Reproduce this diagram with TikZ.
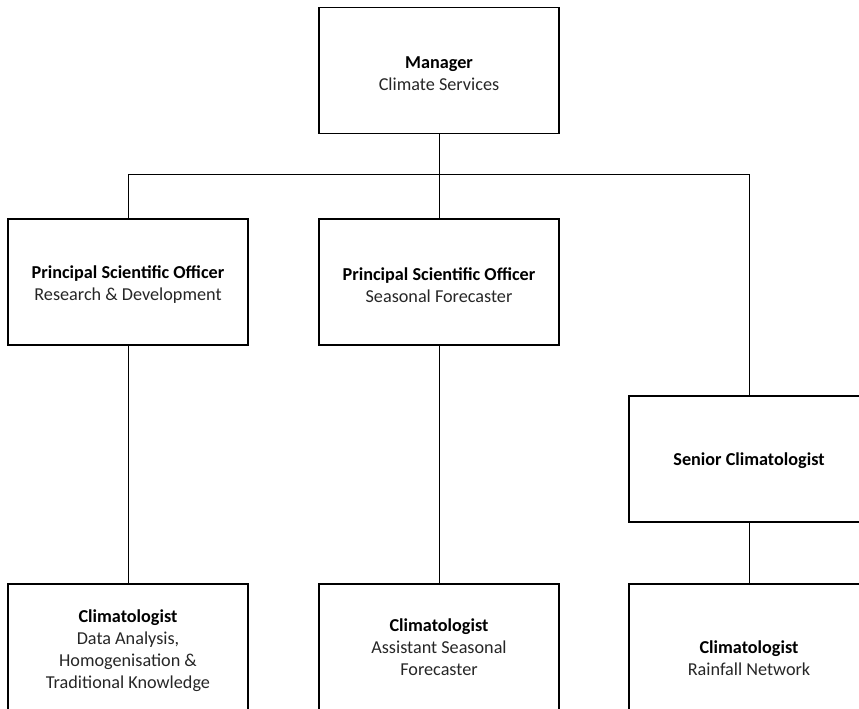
\documentclass[tikz,border=0pt]{standalone}
\usepackage{fontspec}
\setmainfont{Carlito}
\begin{document}
\begin{tikzpicture}[x=1pt,y=-1pt,
  box/.style={draw=black,line width=1.6pt,minimum width=240pt,minimum height=126pt,inner sep=0pt,outer sep=0pt},
  txt/.style={align=center,inner sep=0pt,font=\fontsize{18.2}{22}\selectfont,text=black!85},
  conn/.style={draw=black,line width=0.9pt}]
\useasboundingbox (0,0) rectangle (859,709);
\clip (0,0) rectangle (859,709);
% boxes
\node[box] (m) at (439,70.5) {};
\node[box] (p1) at (128,282) {};
\node[box] (p2) at (439,282) {};
\node[box] (s) at (749,459) {};
\node[box] (c1) at (128,647) {};
\node[box] (c2) at (439,647) {};
\node[box] (c3) at (749,647) {};
% texts
\node[txt] (mt) at (439,73.5) {\textbf{\color{black}Manager}\\Climate Services};
\node[txt] (p1t) at (128,285) {\textbf{\color{black}Principal Scientific Officer}\\Research \& Development};
\node[txt] (p2t) at (439,285) {\textbf{\color{black}Principal Scientific Officer}\\Seasonal Forecaster};
\node[txt] (st) at (749,461) {\textbf{\color{black}Senior Climatologist}};
\node[txt] (c1t) at (128,650.5) {\textbf{\color{black}Climatologist}\\Data Analysis,\\Homogenisation \&\\Traditional Knowledge};
\node[txt] (c2t) at (439,647) {\textbf{\color{black}Climatologist}\\Assistant Seasonal\\Forecaster};
\node[txt] (c3t) at (749,658) {\textbf{\color{black}Climatologist}\\Rainfall Network};
% connectors
\coordinate (bus) at (439,174);
\coordinate (busL) at (p1.north |- bus);
\coordinate (busR) at (s.north |- bus);
\draw[conn] (m.south) -- (p2.north);
\draw[conn] (p1.north) -- (busL) -- (busR) -- (s.north);
\draw[conn] (p1.south) -- (c1.north);
\draw[conn] (p2.south) -- (c2.north);
\draw[conn] (s.south) -- (c3.north);
\end{tikzpicture}
\end{document}
